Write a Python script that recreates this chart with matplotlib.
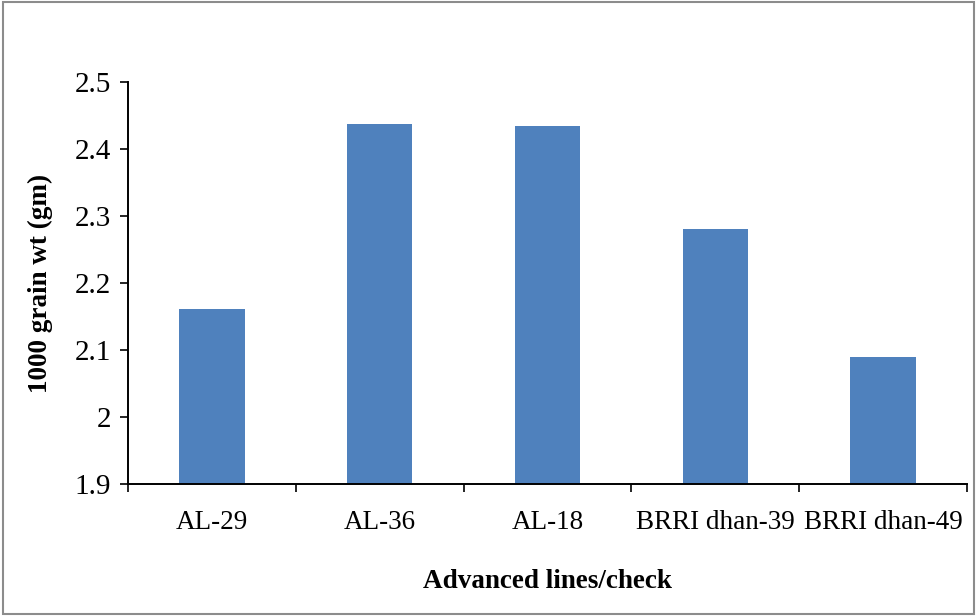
import numpy as np
import matplotlib
matplotlib.use("Agg")
import matplotlib.pyplot as plt
from matplotlib.patches import Rectangle

categories = ["AL-29", "AL-36", "AL-18", "BRRI dhan-39", "BRRI dhan-49"]
grain_wt = [2.161, 2.438, 2.434, 2.280, 2.089]
yticks = [1.9, 2.0, 2.1, 2.2, 2.3, 2.4, 2.5]

plt.rcParams["font.family"] = ["Liberation Serif", "DejaVu Serif"]

fig = plt.figure(figsize=(9.77, 6.16), dpi=100)
ax = fig.add_axes([128 / 977, 1 - 484 / 616, (967 - 128) / 977, (484 - 82) / 616])

x = np.arange(len(categories))
ax.bar(x, [v - 1.9 for v in grain_wt], bottom=1.9, width=0.39, color="#4F81BD")

ax.set_xlim(-0.5, len(categories) - 0.5)
ax.set_ylim(1.9, 2.5)
ax.set_yticks(yticks)
ax.set_yticklabels([f"{v:g}" for v in yticks])
ax.set_xticks(np.arange(len(categories) + 1) - 0.5)
ax.set_xticklabels([])
ax.set_xticks(x, minor=True)
ax.set_xticklabels(categories, minor=True)
ax.tick_params(axis="x", which="minor", length=0, pad=19, labelsize=19.5)
ax.tick_params(axis="x", which="major", direction="out", length=6, width=1.2)
ax.tick_params(axis="y", direction="out", length=6, width=1.2, labelsize=21, pad=6)

for s in ("top", "right"):
    ax.spines[s].set_visible(False)
for s in ("left", "bottom"):
    ax.spines[s].set_linewidth(1.4)

ax.set_xlabel("Advanced lines/check", fontsize=19.5, fontweight="bold", labelpad=24)
ax.set_ylabel("1000 grain wt (gm)", fontsize=19.5, fontweight="bold", labelpad=16)

fig.patches.append(Rectangle((0.003, 0.004), 0.994, 0.992, transform=fig.transFigure,
                             fill=False, edgecolor="#8c8c8c", lw=1.5))

fig.savefig("out.png", dpi=100)
